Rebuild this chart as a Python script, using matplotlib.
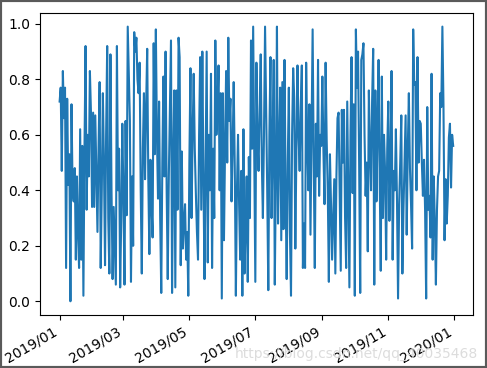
import numpy as np
import pandas as pd
import matplotlib
matplotlib.use("Agg")
import matplotlib.pyplot as plt
import matplotlib.dates as mdates
from matplotlib.patches import Rectangle

start_date = "2019-01-01"

seg1 = [0.72, 0.77, 0.47, 0.83, 0.66, 0.77, 0.12, 0.73, 0.42, 0.53, 0.00, 0.71, 0.40, 0.36, 0.48, 0.15,
        0.45, 0.25, 0.12, 0.62, 0.15, 0.56, 0.02, 0.55, 0.92, 0.33, 0.60, 0.45, 0.83, 0.68, 0.34, 0.68]
seg2 = [0.34, 0.67, 0.45, 0.25, 0.55, 0.79, 0.12, 0.40, 0.75, 0.50, 0.13, 0.60, 0.92, 0.30, 0.10, 0.89,
        0.40, 0.08, 0.34, 0.20, 0.06, 0.92, 0.40, 0.55, 0.05, 0.30, 0.64, 0.38, 0.06, 0.65, 0.31, 0.99,
        0.82, 0.65, 0.07, 0.45, 0.20, 0.97]
seg3 = [0.90, 0.95, 0.80, 0.75, 0.86, 0.40, 0.10, 0.55, 0.75, 0.44, 0.70, 0.91, 0.45, 0.17, 0.51, 0.35,
        0.23, 0.93, 0.53, 0.98, 0.60, 0.37, 0.72, 0.30, 0.03, 0.50, 0.81, 0.45, 0.90, 0.40, 0.08, 0.45,
        0.70, 0.94, 0.03, 0.50, 0.76]
seg4 = [0.05, 0.76, 0.33, 0.95, 0.88, 0.13, 0.54, 0.19, 0.28, 0.35, 0.15, 0.25, 0.02, 0.50, 0.84, 0.30,
        0.60, 0.82, 0.55, 0.39, 0.25, 0.15, 0.60, 0.88, 0.33, 0.90, 0.45, 0.08, 0.50, 0.90, 0.14, 0.60,
        0.40, 0.82, 0.12, 0.55, 0.30]
seg5 = [0.94, 0.60, 0.70, 0.85, 0.40, 0.75, 0.01, 0.75, 0.22, 0.55, 0.83, 0.50, 0.95, 0.65, 0.73, 0.36,
        0.55, 0.79, 0.48, 0.02, 0.40, 0.60, 0.35, 0.15, 0.47, 0.02, 0.62, 0.10, 0.26, 0.45, 0.07, 0.52,
        0.30, 0.94, 0.55, 0.99, 0.55, 0.07, 0.86]
seg6 = [0.58, 0.47, 0.70, 0.89, 0.50, 0.30, 0.60, 0.99, 0.69, 0.40, 0.04, 0.60, 0.88, 0.30, 0.55, 0.87,
        0.06, 0.45, 0.99, 0.28, 0.55, 0.77, 0.22, 0.79, 0.26, 0.87, 0.40, 0.08, 0.50, 0.77, 0.25, 0.02,
        0.60, 0.84, 0.73]
seg7 = [0.19, 0.55, 0.85, 0.60, 0.47, 0.70, 0.85, 0.12, 0.28, 0.12, 0.86, 0.58, 0.40, 0.71, 0.24, 0.60,
        0.98, 0.50, 0.12, 0.64, 0.45, 0.87, 0.38, 0.60, 0.56, 0.81, 0.54, 0.35, 0.86, 0.58, 0.40, 0.07,
        0.53, 0.35, 0.15, 0.30, 0.44, 0.10]
seg8 = [0.45, 0.66, 0.68, 0.40, 0.11, 0.69, 0.50, 0.69, 0.30, 0.12, 0.72, 0.40, 0.05, 0.60, 0.88, 0.39,
        0.71, 0.02, 0.98, 0.77, 0.90, 0.50, 0.03, 0.87, 0.89, 0.93, 0.60, 0.38, 0.50, 0.18, 0.76, 0.55,
        0.40, 0.72, 0.91, 0.06]
seg9 = [0.76, 0.36, 0.60, 0.87, 0.45, 0.11, 0.81, 0.30, 0.60, 0.47, 0.15, 0.55, 0.72, 0.29, 0.50, 0.83,
        0.15, 0.47, 0.40, 0.62, 0.37, 0.01, 0.35, 0.50, 0.67, 0.10, 0.33, 0.50, 0.67, 0.24, 0.55, 0.75,
        0.48, 0.35, 0.19, 0.98, 0.78]
seg10 = [0.79, 0.40, 0.88, 0.50, 0.65, 0.64, 0.50, 0.38, 0.51, 0.33, 0.01, 0.70, 0.33, 0.38, 0.23, 0.82,
         0.15, 0.45, 0.29, 0.06, 0.33, 0.45, 0.47, 0.75, 0.70, 0.99, 0.71, 0.22, 0.44, 0.28, 0.38, 0.59,
         0.64, 0.41, 0.60, 0.56]

values = seg1 + seg2 + seg3 + seg4 + seg5 + seg6 + seg7 + seg8 + seg9 + seg10
dates = pd.date_range(start_date, periods=len(values), freq="D")

watermark = "https://blog.csdn.net/qq_40035468"

fig = plt.figure(figsize=(4.87, 3.68), dpi=100)
ax = fig.add_axes([0.082, 0.144, 0.889, 0.821])
ax.plot(dates, values, color="#1f77b4", linewidth=1.5)
ax.xaxis.set_major_locator(mdates.MonthLocator(bymonth=[1, 3, 5, 7, 9, 11]))
ax.xaxis.set_major_formatter(mdates.DateFormatter("%Y/%m"))
ax.set_yticks([0.0, 0.2, 0.4, 0.6, 0.8, 1.0])
for lbl in ax.get_xticklabels():
    lbl.set_rotation(30)
    lbl.set_ha("right")

fig.text(0.982, 0.018, watermark, ha="right", va="bottom", fontsize=10, color="#d9d9d9", alpha=0.9)
fig.patches.append(Rectangle((0, 0), 1, 1, transform=fig.transFigure, fill=False,
                             edgecolor="#5a5a5a", linewidth=3))
fig.savefig("out.png", dpi=100)
